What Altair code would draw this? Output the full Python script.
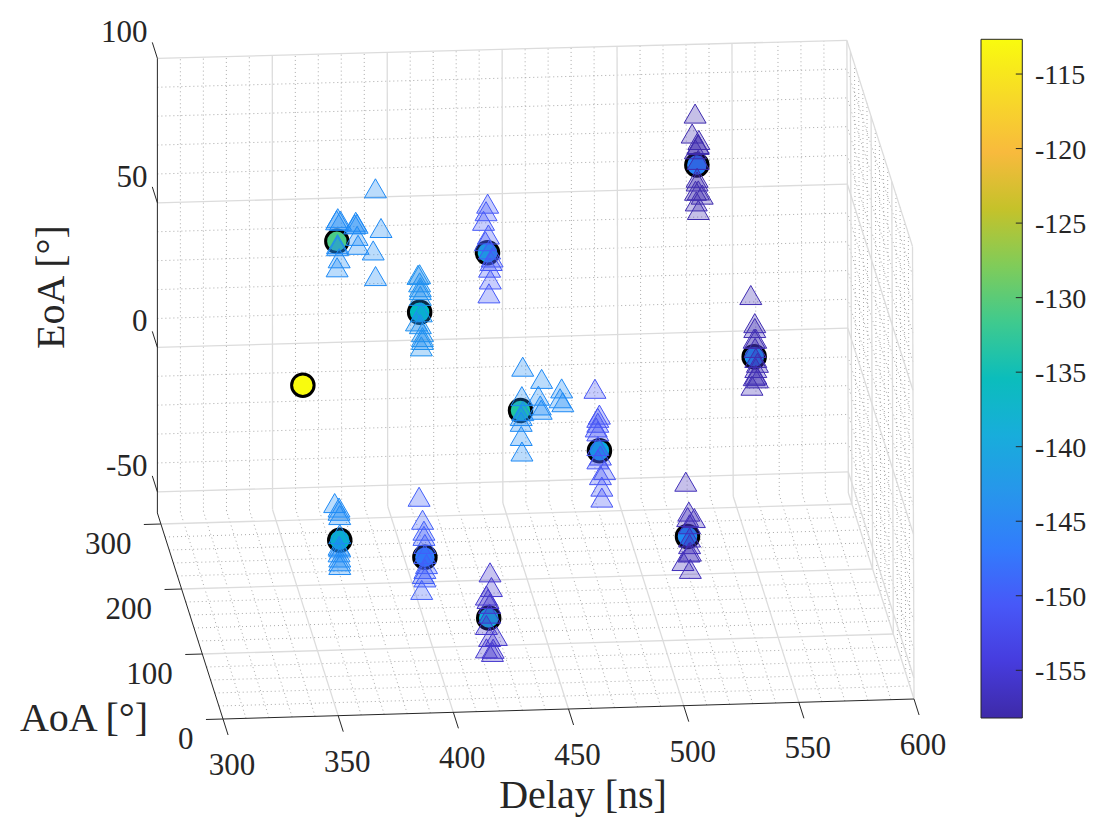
import altair as alt
import pandas as pd

FONT = "Liberation Serif"
INK = "#262626"

# parula, evenly spaced stops
parula = ["#3e2aa8", "#463cde", "#4758f8", "#327cfc", "#2796eb", "#18addb", "#0bbdbc",
          "#3fca8e", "#80cc59", "#c5c22a", "#f8ba3d", "#f7da27", "#f9fb0e"]
power_lo, power_hi = -158.2, -112.67

# mean path of each cluster
path_delay = [374.7, 400.8, 435.7, 438.3, 470.8, 528.6, 542.6, 505.4, 361.5, 393.1, 417.2, 350.9]
path_aoa = [280, 170, 230, 100, 80, 250, 130, 40, 120, 60, 20, 180]
path_eoa = [43.4, 43.0, 49.4, 23.9, 13.8, 73.3, 33.5, -7.7, -23.8, -16.9, -29.5, 16.6]
path_power = [-131, -136, -139, -133, -140, -146, -144, -145, -136, -146, -139, -112.67]

# rays of each cluster
ray_aoa = [280, 170, 230, 100, 80, 250, 130, 40, 120, 60, 20]
ray_power = [-145, -144, -150.5, -145, -151, -157.8, -157.5, -157, -145, -150, -155.5]
ray_delay = [
    [374.6, 376.3, 375.1, 375.0, 375.0, 375.7, 374.8, 382.5, 383.5, 382.9, 383.5, 383.9, 391.5, 393.9, 390.5, 391.5],
    [400.1, 400.8, 400.8, 401.1, 401.1, 401.1, 401.5, 399.4, 401.1, 402.0, 402.0, 402.0, 401.5],
    [435.8, 435.1, 434.0, 436.1, 434.8, 436.6, 437.7, 437.3, 436.6, 436.9, 436.3],
    [439.3, 447.5, 438.9, 446.1, 456.2, 455.5, 456.7, 446.9, 447.3, 439.3, 438.6, 438.6, 438.6, 438.9],
    [468.9, 470.8, 470.1, 470.1, 469.4, 470.1, 470.1, 471.2, 470.1, 473.0, 471.2, 471.8, 471.8],
    [527.9, 526.6, 529.5, 529.2, 529.2, 528.0, 529.2, 528.7, 528.7, 528.0, 529.2, 530.9, 528.3, 529.2],
    [541.2, 542.9, 542.9, 542.6, 543.3, 543.0, 543.3, 544.0, 543.3, 543.3, 544.0, 542.6, 541.6],
    [504.7, 506.0, 505.5, 508.4, 506.3, 506.3, 506.3, 506.6, 506.0, 503.4, 506.6],
    [359.3, 361.2, 361.2, 361.5, 361.5, 361.2, 361.5, 361.2, 361.5, 361.5, 361.5],
    [390.6, 392.1, 392.7, 392.7, 393.1, 393.1, 393.8, 393.1, 392.4, 393.1, 391.7],
    [417.8, 418.4, 416.2, 416.9, 417.6, 417.6, 416.2, 420.5, 417.6, 416.2, 418.8, 419.1],
]
ray_eoa = [
    [50.7, 50.5, 51.4, 42.4, 41.7, 37.5, 34.4, 49.1, 49.3, 50.0, 45.1, 42.0, 61.4, 47.6, 39.9, 31.0],
    [56.0, 56.2, 53.4, 51.7, 50.7, 48.7, 43.0, 39.9, 38.9, 36.1, 34.4, 33.4, 31.2],
    [66.4, 63.8, 60.5, 55.7, 53.4, 50.5, 47.7, 46.5, 44.2, 40.1, 35.3],
    [39.1, 34.7, 28.9, 28.9, 31.2, 27.8, 26.4, 25.5, 24.0, 23.7, 22.0, 20.0, 15.1, 9.7],
    [35.3, 26.3, 25.2, 23.5, 21.9, 20.5, 15.4, 12.1, 10.8, 7.0, 5.3, 1.3, -2.5],
    [91.2, 84.3, 82.0, 80.6, 80.3, 78.8, 75.1, 68.9, 67.6, 64.4, 64.5, 63.0, 60.7, 57.7],
    [55.0, 45.2, 43.5, 39.8, 39.8, 36.6, 33.1, 31.4, 29.6, 27.3, 26.0, 26.8, 23.5],
    [11.3, 0.9, -1.0, -1.4, -3.5, -8.1, -10.4, -13.0, -13.3, -16.2, -19.0],
    [-10.9, -12.5, -13.6, -15.1, -21.7, -25.7, -26.3, -28.0, -29.8, -31.1, -32.4],
    [4.1, -3.9, -7.7, -9.5, -12.3, -15.8, -19.3, -21.0, -22.7, -23.9, -28.2],
    [-13.7, -18.8, -21.7, -22.9, -24.6, -28.0, -31.9, -35.8, -36.1, -40.0, -41.3, -40.2],
]

delay_ticks = [300, 350, 400, 450, 500, 550, 600]
aoa_ticks = [0, 100, 200, 300]
eoa_ticks = [-50, 0, 50, 100]
power_ticks = [-115, -120, -125, -130, -135, -140, -145, -150, -155]

delay_minor = [d for d in range(310, 600, 10) if d % 50]
aoa_minor = [a for a in range(20, 320, 20) if a % 100]
eoa_minor = [e for e in range(-40, 100, 10) if e % 50]

DELAY0, DELAY1 = 300, 600
AOA1 = 317
EOA0, EOA1 = -57.3, 100


# the view of the 3-D box, as MATLAB left it
def project(d, a, e):
    t = (d - DELAY0) / (DELAY1 - DELAY0)
    z = (e - EOA0) / (EOA1 - EOA0)
    x = 223 + 691 * t - 0.207 * a - 1.5 * t * z
    y = 719 - (20 - 2 * z) * t - 0.65 * a - 2.89 * (e - EOA0)
    return x, y


def segment(start, end):
    x, y = project(*start)
    x2, y2 = project(*end)
    return {"x": x, "y": y, "x2": x2, "y2": y2}


major, minor = [], []
for d in delay_ticks[1:]:
    major.append(segment((d, AOA1, EOA0), (d, AOA1, EOA1)))
    major.append(segment((d, 0, EOA0), (d, AOA1, EOA0)))
for a in aoa_ticks[1:]:
    major.append(segment((DELAY0, a, EOA0), (DELAY1, a, EOA0)))
for a in aoa_ticks:
    major.append(segment((DELAY1, a, EOA0), (DELAY1, a, EOA1)))
for e in eoa_ticks:
    major.append(segment((DELAY0, AOA1, e), (DELAY1, AOA1, e)))
    major.append(segment((DELAY1, 0, e), (DELAY1, AOA1, e)))
for d in delay_minor:
    minor.append(segment((d, AOA1, EOA0), (d, AOA1, EOA1)))
    minor.append(segment((d, 0, EOA0), (d, AOA1, EOA0)))
for a in aoa_minor:
    minor.append(segment((DELAY0, a, EOA0), (DELAY1, a, EOA0)))
    minor.append(segment((DELAY1, a, EOA0), (DELAY1, a, EOA1)))
for e in eoa_minor:
    minor.append(segment((DELAY0, AOA1, e), (DELAY1, AOA1, e)))
    minor.append(segment((DELAY1, 0, e), (DELAY1, AOA1, e)))

axes = [
    segment((DELAY0, AOA1, EOA0), (DELAY0, AOA1, EOA1)),
    segment((DELAY0, 0, EOA0), (DELAY0, AOA1, EOA0)),
    segment((DELAY0, 0, EOA0), (DELAY1, 0, EOA0)),
]
labels_mid, labels_right, labels_left = [], [], []
for e in eoa_ticks:
    axes.append(segment((DELAY0, AOA1, e), (DELAY0, AOA1 + 24.6, e)))
    x, y = project(DELAY0, AOA1, e)
    labels_right.append({"x": x - 10, "y": y - 25, "label": str(e)})
for d in delay_ticks:
    axes.append(segment((d, 0, EOA0), (d, -24.6, EOA0)))
    x, y = project(d, 0, EOA0)
    labels_mid.append({"x": x + 9, "y": y + 47, "label": str(d)})
for a in aoa_ticks:
    axes.append(segment((DELAY0, a, EOA0), (DELAY0 - 7.4, a, EOA0)))
    x, y = project(DELAY0, a, EOA0)
    labels_right.append({"x": x - 29.5, "y": y + 21, "label": str(a)})

# colorbar frame and ticks
CBAR_X0, CBAR_X1 = 981, 1022.3
CBAR_TOP, CBAR_LEN = 39.3, 678.7
for p in power_ticks:
    y = CBAR_TOP + (power_hi - p) / (power_hi - power_lo) * CBAR_LEN
    axes.append({"x": CBAR_X1 - 6.5, "y": y, "x2": CBAR_X1, "y2": y})
    labels_left.append({"x": 1035, "y": y + 2, "label": str(p)})

rays = []
for i, ds in enumerate(ray_delay):
    for d, e in zip(ds, ray_eoa[i]):
        x, y = project(d, ray_aoa[i], e)
        rays.append({"x": x, "y": y, "power": ray_power[i]})
paths = []
for d, a, e, p in zip(path_delay, path_aoa, path_eoa, path_power):
    x, y = project(d, a, e)
    paths.append({"x": x, "y": y, "power": p})

x_enc = alt.X("x:Q", scale=alt.Scale(domain=[8, 1112], nice=False, zero=False), axis=None)
y_enc = alt.Y("y:Q", scale=alt.Scale(domain=[832, 8], nice=False, zero=False), axis=None)
power_scale = alt.Scale(domain=[power_lo, power_hi], range=parula)


def rules(rows, **style):
    return alt.Chart(pd.DataFrame(rows)).mark_rule(**style).encode(
        x=x_enc, y=y_enc, x2="x2:Q", y2="y2:Q"
    )


def texts(rows, **style):
    return alt.Chart(pd.DataFrame(rows)).mark_text(font=FONT, color=INK, **style).encode(
        x=x_enc, y=y_enc, text="label:N"
    )


titles = [
    {"x": 84, "y": 719, "label": "AoA [°]"},
    {"x": 583, "y": 796, "label": "Delay [ns]"},
]

colorbar = alt.Chart(pd.DataFrame([{
    "x": CBAR_X0, "x2": CBAR_X1, "y": CBAR_TOP, "y2": CBAR_TOP + CBAR_LEN,
}])).mark_rect(
    color=alt.Gradient(
        gradient="linear",
        x1=0, y1=1, x2=0, y2=0,
        stops=[alt.GradientStop(offset=i / (len(parula) - 1), color=c) for i, c in enumerate(parula)],
    ),
    stroke=INK,
    strokeWidth=1,
).encode(x=x_enc, y=y_enc, x2="x2:Q", y2="y2:Q")

chart = alt.layer(
    rules(minor, color="#aaaaaa", strokeWidth=1, strokeDash=[1, 3]),
    rules(major, color="#dcdcdc", strokeWidth=1.3),
    colorbar,
    rules(axes, color=INK, strokeWidth=1),
    alt.Chart(pd.DataFrame(paths)).mark_point(
        shape="circle", filled=True, size=506, opacity=1, stroke="black", strokeWidth=3
    ).encode(x=x_enc, y=y_enc, fill=alt.Fill("power:Q", scale=power_scale, legend=None)),
    alt.Chart(pd.DataFrame(rays)).mark_point(
        shape="triangle-up", filled=True, size=484, opacity=1, fillOpacity=0.3, strokeWidth=1
    ).encode(
        x=x_enc,
        y=y_enc,
        fill=alt.Fill("power:Q", scale=power_scale, legend=None),
        stroke=alt.Stroke("power:Q", scale=power_scale, legend=None),
    ),
    texts(labels_right, align="right", baseline="middle", fontSize=31),
    texts(labels_mid, align="center", baseline="middle", fontSize=31),
    texts(labels_left, align="left", baseline="middle", fontSize=28),
    texts(titles, align="center", baseline="middle", fontSize=40),
    texts([{"x": 52, "y": 287, "label": "EoA [°]"}], align="center", baseline="middle", fontSize=40, angle=270),
).properties(width=1104, height=824, padding=0, autosize="none", background="white").configure_view(stroke=None)

chart.save("out.html", embed_options={"renderer": "svg", "actions": False})
